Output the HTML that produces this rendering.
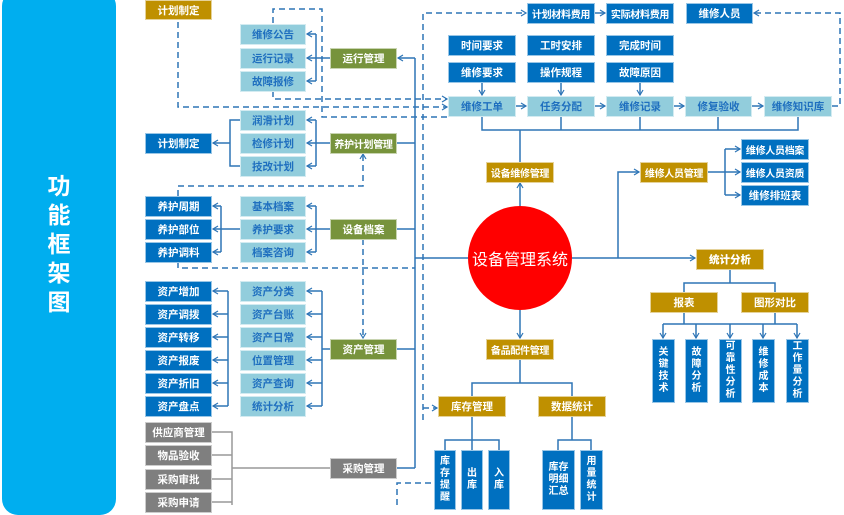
<!DOCTYPE html>
<html><head><meta charset="utf-8"><style>
body{margin:0;width:844px;height:505px;overflow:hidden;background:#fff;position:relative;font-family:"Liberation Sans","Noto Sans CJK SC",sans-serif;}
.b{position:absolute;display:flex;align-items:center;justify-content:center;font-size:10.5px;font-weight:bold;color:#fff;box-sizing:border-box;border:1px solid rgba(255,255,255,.6);white-space:nowrap;overflow:hidden;}
.s{font-size:10px;letter-spacing:-0.3px}
.g{background:#BF9000}.gr{background:#77933C}.l{background:#92CDDC;color:#1F6FBF}.d{background:#0070C0}.y{background:#7F7F7F}
.v{white-space:normal;line-height:12px;text-align:center;padding:0 1px;font-size:10px;}
#side{position:absolute;left:2px;top:-10px;width:114px;height:525px;background:#00AEEF;border-radius:16px;}
#side div{position:absolute;left:0;width:114px;top:182px;text-align:center;color:#fff;font-size:23px;font-weight:bold;line-height:29px;}
svg{position:absolute;left:0;top:0;}
#c{position:absolute;left:468px;top:206px;width:104px;height:104px;border-radius:50%;background:#FF0000;color:#fff;font-size:16px;display:flex;align-items:center;justify-content:center;white-space:nowrap;}
</style></head><body>
<div id="side"><div>功<br>能<br>框<br>架<br>图</div></div>
<svg width="844" height="505" viewBox="0 0 844 505">
<defs><marker id="a" markerWidth="8" markerHeight="8" refX="6" refY="4" orient="auto" markerUnits="userSpaceOnUse"><path d="M1,1 L6,4 L1,7" fill="none" stroke="#2E75B6" stroke-width="1.2"/></marker></defs>
<g stroke="#2E75B6" stroke-width="1.5" fill="none">
<path d="M316,34V81M330,58H316"/>
<path d="M316,34H307" marker-end="url(#a)"/><path d="M316,58H307" marker-end="url(#a)"/><path d="M316,81H307" marker-end="url(#a)"/>
<path d="M415,58H398" marker-end="url(#a)"/>
<path d="M316,120V166M330,143H316"/>
<path d="M316,120H307" marker-end="url(#a)"/><path d="M316,143H307" marker-end="url(#a)"/><path d="M316,166H307" marker-end="url(#a)"/>
<path d="M240,120H230V166H240M230,143H213" marker-end="url(#a)"/>
<path d="M397,143H415"/>
<path d="M316,206V252M330,229H316"/>
<path d="M316,206H307" marker-end="url(#a)"/><path d="M316,229H307" marker-end="url(#a)"/><path d="M316,252H307" marker-end="url(#a)"/>
<path d="M240,229H221M221,206V252"/>
<path d="M221,206H213" marker-end="url(#a)"/><path d="M221,229H213" marker-end="url(#a)"/><path d="M221,252H213" marker-end="url(#a)"/>
<path d="M397,229H415"/>
<path d="M322,291V406M330,349H322"/>
<path d="M322,291H307" marker-end="url(#a)"/><path d="M322,314H307" marker-end="url(#a)"/><path d="M322,337H307" marker-end="url(#a)"/><path d="M322,360H307" marker-end="url(#a)"/><path d="M322,383H307" marker-end="url(#a)"/><path d="M322,406H307" marker-end="url(#a)"/>
<path d="M228,291V406"/>
<path d="M228,291H213" marker-end="url(#a)"/><path d="M228,314H213" marker-end="url(#a)"/><path d="M228,337H213" marker-end="url(#a)"/><path d="M228,360H213" marker-end="url(#a)"/><path d="M228,383H213" marker-end="url(#a)"/><path d="M228,406H213" marker-end="url(#a)"/>
<path d="M397,349H415"/>
<path d="M212,432H232V505M212,455H232M212,479H232M212,502H232M232,468H330" stroke="#999"/>
<path d="M397,468H415"/>
<path d="M415,58V468"/>
<path d="M468,258H415"/>
<path d="M482,82V95" marker-end="url(#a)"/><path d="M561,82V95" marker-end="url(#a)"/><path d="M640,82V95" marker-end="url(#a)"/>
<path d="M516,106H526" marker-end="url(#a)"/><path d="M595,106H605" marker-end="url(#a)"/><path d="M674,106H684" marker-end="url(#a)"/><path d="M752,106H763" marker-end="url(#a)"/>
<path d="M595,13H605" marker-end="url(#a)"/>
<path d="M482,116V130H798V116M561,116V130M640,116V130M718,116V130M520,130V162"/>
<path d="M520,206V183" marker-end="url(#a)"/>
<path d="M572,258H695" marker-end="url(#a)"/>
<path d="M618,258V172H639" marker-end="url(#a)"/>
<path d="M708,172H725M725,149V195"/>
<path d="M725,149H740" marker-end="url(#a)"/><path d="M725,172H740" marker-end="url(#a)"/><path d="M725,195H740" marker-end="url(#a)"/>
<path d="M730,269V283M684,292V283H775V292M684,312V324M775,312V324M663,324H797"/>
<path d="M663,324V338" marker-end="url(#a)"/><path d="M696,324V338" marker-end="url(#a)"/><path d="M730,324V338" marker-end="url(#a)"/><path d="M763,324V338" marker-end="url(#a)"/><path d="M797,324V338" marker-end="url(#a)"/>
<path d="M520,310V338" marker-end="url(#a)"/>
<path d="M520,359V383M472,396V383H572V396M472,416V440M445,450V440H499V450M472,440V450M572,416V440M558,450V440H591V450"/>
</g>
<g stroke="#2E75B6" stroke-width="1.5" fill="none" stroke-dasharray="6,4">
<path d="M178,22V107H447" marker-end="url(#a)"/>
<path d="M273,91V99H447" marker-end="url(#a)"/>
<path d="M273,23V9H322V117H448"/>
<path d="M423,420V13H526" marker-end="url(#a)"/>
<path d="M423,408H437" marker-end="url(#a)"/>
<path d="M832,106H840V13H754" marker-end="url(#a)"/>
<path d="M178,196V186H363V154" marker-end="url(#a)"/>
<path d="M363,239V338" marker-end="url(#a)"/>
<path d="M178,262V268H415"/>
<path d="M397,505V483H434"/>
</g>
</svg>
<div class="b g" style="left:145px;top:0;width:67px;height:20px">计划制定</div>
<div class="b l" style="left:240px;top:24px;width:66px;height:21px">维修公告</div>
<div class="b l" style="left:240px;top:48px;width:66px;height:21px">运行记录</div>
<div class="b l" style="left:240px;top:71px;width:66px;height:21px">故障报修</div>
<div class="b gr" style="left:330px;top:48px;width:67px;height:21px">运行管理</div>
<div class="b l" style="left:240px;top:110px;width:66px;height:21px">润滑计划</div>
<div class="b l" style="left:240px;top:133px;width:66px;height:21px">检修计划</div>
<div class="b l" style="left:240px;top:156px;width:66px;height:21px">技改计划</div>
<div class="b d" style="left:145px;top:133px;width:67px;height:21px">计划制定</div>
<div class="b gr s" style="left:330px;top:133px;width:67px;height:21px">养护计划管理</div>
<div class="b d" style="left:145px;top:196px;width:67px;height:21px">养护周期</div>
<div class="b d" style="left:145px;top:219px;width:67px;height:21px">养护部位</div>
<div class="b d" style="left:145px;top:242px;width:67px;height:21px">养护调料</div>
<div class="b l" style="left:240px;top:196px;width:66px;height:21px">基本档案</div>
<div class="b l" style="left:240px;top:219px;width:66px;height:21px">养护要求</div>
<div class="b l" style="left:240px;top:242px;width:66px;height:21px">档案咨询</div>
<div class="b gr" style="left:330px;top:219px;width:67px;height:21px">设备档案</div>
<div class="b d" style="left:145px;top:281px;width:67px;height:21px">资产增加</div>
<div class="b d" style="left:145px;top:304px;width:67px;height:21px">资产调拨</div>
<div class="b d" style="left:145px;top:327px;width:67px;height:21px">资产转移</div>
<div class="b d" style="left:145px;top:350px;width:67px;height:21px">资产报废</div>
<div class="b d" style="left:145px;top:373px;width:67px;height:21px">资产折旧</div>
<div class="b d" style="left:145px;top:396px;width:67px;height:21px">资产盘点</div>
<div class="b l" style="left:240px;top:281px;width:66px;height:21px">资产分类</div>
<div class="b l" style="left:240px;top:304px;width:66px;height:21px">资产台账</div>
<div class="b l" style="left:240px;top:327px;width:66px;height:21px">资产日常</div>
<div class="b l" style="left:240px;top:350px;width:66px;height:21px">位置管理</div>
<div class="b l" style="left:240px;top:373px;width:66px;height:21px">资产查询</div>
<div class="b l" style="left:240px;top:396px;width:66px;height:21px">统计分析</div>
<div class="b gr" style="left:330px;top:339px;width:67px;height:21px">资产管理</div>
<div class="b y" style="left:145px;top:422px;width:67px;height:21px">供应商管理</div>
<div class="b y" style="left:145px;top:445px;width:67px;height:21px">物品验收</div>
<div class="b y" style="left:145px;top:469px;width:67px;height:21px">采购审批</div>
<div class="b y" style="left:145px;top:492px;width:67px;height:21px">采购申请</div>
<div class="b y" style="left:330px;top:458px;width:67px;height:21px">采购管理</div>
<div class="b d s" style="left:527px;top:3px;width:68px;height:21px">计划材料费用</div>
<div class="b d s" style="left:606px;top:3px;width:68px;height:21px">实际材料费用</div>
<div class="b d" style="left:686px;top:3px;width:67px;height:21px">维修人员</div>
<div class="b d" style="left:448px;top:35px;width:68px;height:21px">时间要求</div>
<div class="b d" style="left:527px;top:35px;width:68px;height:21px">工时安排</div>
<div class="b d" style="left:606px;top:35px;width:68px;height:21px">完成时间</div>
<div class="b d" style="left:448px;top:62px;width:68px;height:21px">维修要求</div>
<div class="b d" style="left:527px;top:62px;width:68px;height:21px">操作规程</div>
<div class="b d" style="left:606px;top:62px;width:68px;height:21px">故障原因</div>
<div class="b l" style="left:448px;top:96px;width:68px;height:21px">维修工单</div>
<div class="b l" style="left:527px;top:96px;width:68px;height:21px">任务分配</div>
<div class="b l" style="left:606px;top:96px;width:68px;height:21px">维修记录</div>
<div class="b l" style="left:685px;top:96px;width:67px;height:21px">修复验收</div>
<div class="b l" style="left:764px;top:96px;width:68px;height:21px">维修知识库</div>
<div class="b g s" style="left:486px;top:162px;width:68px;height:21px">设备维修管理</div>
<div class="b g s" style="left:640px;top:162px;width:68px;height:21px">维修人员管理</div>
<div class="b d s" style="left:741px;top:139px;width:68px;height:21px">维修人员档案</div>
<div class="b d s" style="left:741px;top:162px;width:68px;height:21px">维修人员资质</div>
<div class="b d" style="left:741px;top:185px;width:68px;height:21px">维修排班表</div>
<div id="c">设备管理系统</div>
<div class="b g" style="left:696px;top:249px;width:68px;height:21px;font-weight:900">统计分析</div>
<div class="b g" style="left:650px;top:292px;width:68px;height:21px">报表</div>
<div class="b g" style="left:741px;top:292px;width:68px;height:21px">图形对比</div>
<div class="b d v" style="left:652px;top:339px;width:23px;height:64px">关键技术</div>
<div class="b d v" style="left:685px;top:339px;width:23px;height:64px">故障分析</div>
<div class="b d v" style="left:719px;top:339px;width:23px;height:64px">可靠性分析</div>
<div class="b d v" style="left:752px;top:339px;width:23px;height:64px">维修成本</div>
<div class="b d v" style="left:786px;top:339px;width:23px;height:64px">工作量分析</div>
<div class="b g s" style="left:486px;top:339px;width:68px;height:21px">备品配件管理</div>
<div class="b g" style="left:438px;top:396px;width:68px;height:21px">库存管理</div>
<div class="b g" style="left:538px;top:396px;width:68px;height:21px">数据统计</div>
<div class="b d v" style="left:434px;top:450px;width:22px;height:60px;align-items:flex-start;padding-top:5px">库存提醒</div>
<div class="b d v" style="left:461px;top:450px;width:22px;height:60px">出库</div>
<div class="b d v" style="left:488px;top:450px;width:22px;height:60px">入库</div>
<div class="b d v" style="left:542px;top:450px;width:33px;height:60px">库存明细汇总</div>
<div class="b d v" style="left:580px;top:450px;width:23px;height:60px;align-items:flex-start;padding-top:5px">用量统计</div>
</body></html>
